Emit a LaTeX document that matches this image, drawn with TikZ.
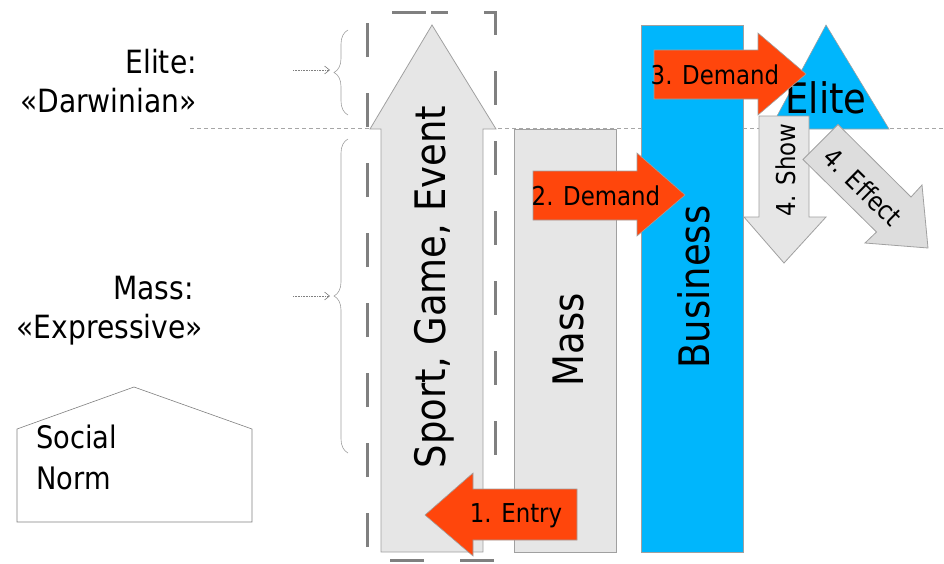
\documentclass[tikz,border=0pt]{standalone}
\usepackage{fontspec}
\setmainfont[FakeStretch=0.88]{DejaVu Sans}
\usetikzlibrary{arrows.meta,decorations.pathreplacing}

\definecolor{panelgray}{HTML}{E6E6E6}
\definecolor{effectgray}{HTML}{DDDDDD}
\definecolor{edgegray}{HTML}{A0A0A0}
\definecolor{framegray}{HTML}{808080}
\definecolor{bizblue}{RGB}{0,182,252}
\definecolor{demandred}{RGB}{255,70,12}

\tikzset{
  block/.style={fill=panelgray, draw=edgegray, line width=0.8pt},
  blueblock/.style={fill=bizblue, draw=edgegray, line width=0.6pt},
  flow/.style={fill=demandred, draw=edgegray, line width=0.6pt},
  bigtext/.style={inner sep=0pt, font=\fontsize{42}{50}\selectfont},
  flowtext/.style={inner sep=0pt, font=\fontsize{26}{31}\selectfont},
  sidetext/.style={inner sep=0pt, font=\fontsize{32}{38}\selectfont},
  normtext/.style={inner sep=0pt, font=\fontsize{31}{37}\selectfont},
  levelbrace/.style={draw=edgegray, line width=0.6pt,
    decorate, decoration={brace, amplitude=14pt}},
  pointer/.style={draw=gray, densely dotted, line width=0.6pt,
    -{Straight Barb[length=5pt,width=8pt,line width=0.6pt]}},
}

\begin{document}
\begin{tikzpicture}[x=1pt,y=-1pt]
\useasboundingbox (0,0) rectangle (944,563);

% level separator
\draw[gray!70, line width=0.7pt, dash pattern=on 4pt off 3pt] (190,128) -- (944,128);

% level labels with their braces
\node[sidetext, anchor=base east] (elitehead) at (197,73) {Elite:};
\node[sidetext, anchor=base east] (elitetype) at (197,112) {«Darwinian»};
\node[sidetext, anchor=base east] (masshead) at (194,299) {Mass:};
\node[sidetext, anchor=base east] (masstype) at (203,338) {«Expressive»};

\coordinate (elitebraceTip) at (330,70);
\coordinate (massbraceTip) at (330,296);
\coordinate (eliteptr) at (293,70);
\coordinate (massptr) at (293,296);
\draw[levelbrace] (348,115) -- (348,30);
\draw[levelbrace] (348,453) -- (348,139);
\draw[pointer] (eliteptr) -- (elitebraceTip);
\draw[pointer] (massptr) -- (massbraceTip);

% social norm
\draw[draw=gray, fill=white, line width=0.6pt]
  (17,522) -- (17,429) -- (134,387) -- (252,429) -- (252,522) -- cycle;
\node[normtext, anchor=base west] (social) at (36,448) {Social};
\node[normtext, anchor=base west] (norm) at (36,489) {Norm};

% sport, game, event: upward arrow
\draw[block]
  (381,552) -- (381,129) -- (370,129) -- (432,25) -- (496,129)
  -- (483,129) -- (483,552) -- cycle;
\node[bigtext, rotate=90] (sge) at (434,287) {Sport, Game, Event};

% dashed frame round the event column, started mid-top so the top edge
% shows a centred dash between two corner pieces
\draw[framegray, line width=3pt, dash pattern=on 34pt off 36pt, dash phase=17pt]
  (431,12) -- (495,12) -- (495,560) -- (367,560) -- (367,12) -- cycle;

% mass column
\draw[block] (514,129) rectangle (616,552);
\node[bigtext, rotate=90] (mass) at (568,340) {Mass};

% business column
\draw[blueblock] (641,25) rectangle (743,552);
\node[bigtext, rotate=90] (business) at (694,287) {Business};

% elite triangle
\draw[blueblock] (770,129) -- (826,25) -- (889,129) -- cycle;
\node[bigtext] (elite) at (826,98) {Elite};

% 4. show
\draw[block]
  (759,116) -- (809,116) -- (809,217) -- (826,217) -- (784,263)
  -- (744,217) -- (759,217) -- cycle;
\node[flowtext, rotate=90] (show) at (786,170) {4. Show};

% 4. effect
\draw[block, fill=effectgray]
  (803,159.5) -- (838,124.5) -- (911,197) -- (922,185) -- (928,248)
  -- (865,243) -- (876.5,232) -- cycle;
\node[flowtext, rotate=-44.5] (effect) at (863,187) {4. Effect};

% 3. demand
\draw[flow]
  (654,50) -- (758,50) -- (758,33) -- (806,74) -- (758,115)
  -- (758,99) -- (654,99) -- cycle;
\node[flowtext] (demandthree) at (715,75) {3. Demand};

% 2. demand
\draw[flow]
  (533,171) -- (637,171) -- (637,153) -- (685,195) -- (637,236)
  -- (637,220) -- (533,220) -- cycle;
\node[flowtext] (demandtwo) at (596,196) {2. Demand};

% 1. entry
\draw[flow]
  (577,489) -- (473,489) -- (473,473) -- (425,515) -- (473,556)
  -- (473,540) -- (577,540) -- cycle;
\node[flowtext] (entry) at (516,516) {1. Entry};
\end{tikzpicture}
\end{document}
